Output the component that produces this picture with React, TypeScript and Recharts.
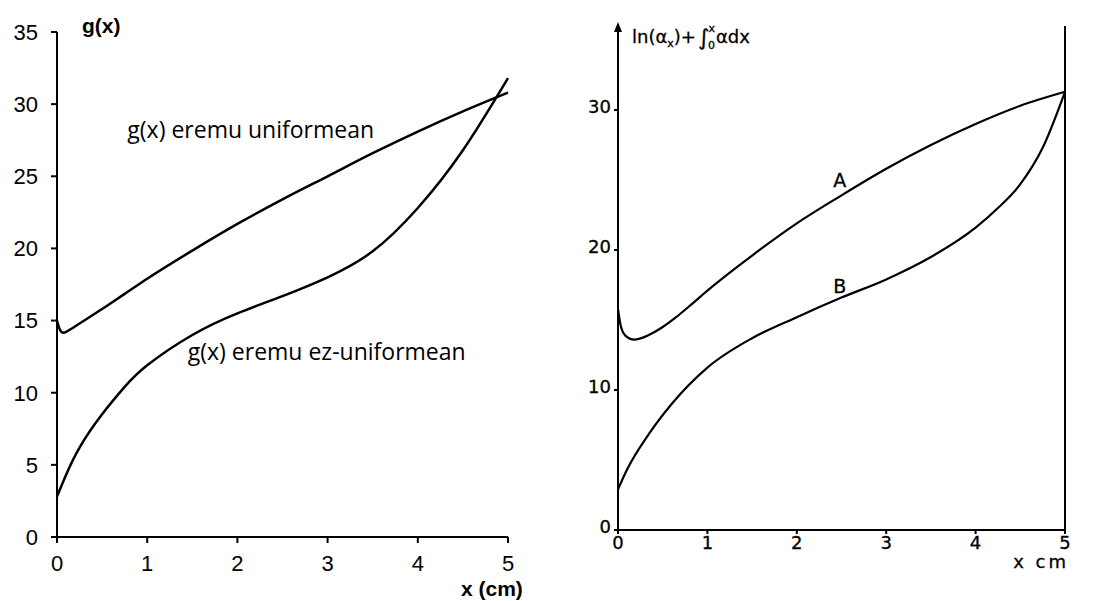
import { LineChart, Line, XAxis, YAxis, ReferenceLine, ReferenceDot } from 'recharts';

// shared x ticks (cm)
const xTicks = [0, 1, 2, 3, 4, 5];
const leftYTicks = [0, 5, 10, 15, 20, 25, 30, 35];
const rightYTicks = [0, 10, 20, 30];

// left panel: g(x)
const uniformX = [0, 0.03, 0.07, 0.15, 0.25, 0.5, 0.75, 1, 1.5, 2, 2.5, 3, 3.5, 4, 4.5, 5];
const uniformY = [15.0, 14.4, 14.15, 14.4, 14.8, 15.8, 16.85, 17.9, 19.85, 21.7, 23.4, 25.0, 26.6, 28.1, 29.5, 30.8];
const nonUniformX = [0, 0.1, 0.25, 0.5, 0.75, 1, 1.5, 2, 2.5, 3, 3.5, 4, 4.5, 5];
const nonUniformY = [2.8, 4.3, 6.2, 8.5, 10.4, 11.9, 14.0, 15.5, 16.7, 18.0, 19.8, 22.8, 26.8, 31.8];

// right panel: curves A and B
const curveAX = [0, 0.03, 0.08, 0.18, 0.35, 0.5, 0.65, 0.8, 1, 1.5, 2, 2.5, 3, 3.5, 4, 4.5, 5];
const curveAY = [15.8, 14.6, 13.9, 13.6, 13.95, 14.5, 15.2, 16.0, 17.1, 19.6, 21.9, 23.9, 25.8, 27.5, 29.0, 30.3, 31.3];
const curveBX = [0, 0.1, 0.35, 0.6, 1, 1.5, 2, 2.5, 3, 3.5, 4, 4.25, 4.5, 4.75, 5];
const curveBY = [2.9, 4.3, 6.9, 9.0, 11.6, 13.7, 15.2, 16.6, 17.9, 19.5, 21.6, 23.0, 24.7, 27.3, 31.3];

const toPoints = (xs: number[], ys: number[]) => xs.map((x, i) => ({ x, y: ys[i] }));

const arial = '"Liberation Sans", Arial, sans-serif';
const calibri = '"Open Sans", Lato, sans-serif';
const oldFont = '"DejaVu Sans", sans-serif';

function LeftChart() {
  return (
    <LineChart width={550} height={601} margin={{ top: 32, right: 42, bottom: 24, left: 0 }}>
      <XAxis
        type="number"
        dataKey="x"
        domain={[0, 5]}
        ticks={xTicks}
        height={40}
        stroke="#000"
        strokeWidth={2}
        tickSize={6}
        tickMargin={12}
        tick={{ fill: '#000', fontSize: 22, fontFamily: arial }}
        label={(props: any) => {
          const { x, y, width } = props.viewBox;
          return (
            <text x={x + width - 47} y={y + 59} textAnchor="start" fontFamily={arial} fontWeight="bold" fontSize={21} fill="#000">
              x (cm)
            </text>
          );
        }}
      />
      <YAxis
        type="number"
        domain={[0, 35]}
        ticks={leftYTicks}
        width={57}
        stroke="#000"
        strokeWidth={2}
        tickSize={6}
        tickMargin={13}
        tick={{ fill: '#000', fontSize: 22, fontFamily: arial }}
        label={(props: any) => {
          const { x, y, width } = props.viewBox;
          return (
            <text x={x + width + 25} y={y + 1} textAnchor="start" fontFamily={arial} fontWeight="bold" fontSize={21} fill="#000">
              g(x)
            </text>
          );
        }}
      />
      <ReferenceDot
        x={0.78}
        y={28.2}
        r={0}
        fill="none"
        stroke="none"
        label={{ value: 'g(x) eremu uniformean', position: 'right', offset: 0, fill: '#000', fontSize: 23, fontFamily: calibri }}
      />
      <ReferenceDot
        x={1.45}
        y={12.8}
        r={0}
        fill="none"
        stroke="none"
        label={{ value: 'g(x) eremu ez-uniformean', position: 'right', offset: 0, fill: '#000', fontSize: 23, fontFamily: calibri }}
      />
      <Line data={toPoints(uniformX, uniformY)} dataKey="y" type="monotone" stroke="#000" strokeWidth={2.5} dot={false} isAnimationActive={false} />
      <Line data={toPoints(nonUniformX, nonUniformY)} dataKey="y" type="natural" stroke="#000" strokeWidth={2.5} dot={false} isAnimationActive={false} />
    </LineChart>
  );
}

function RightChart() {
  return (
    <LineChart width={548} height={601} margin={{ top: 26, right: 33, bottom: 31, left: 0 }}>
      <XAxis
        type="number"
        dataKey="x"
        domain={[0, 5]}
        ticks={xTicks}
        height={40}
        stroke="#000"
        strokeWidth={2}
        tickSize={4}
        tickMargin={2}
        tick={{ fill: '#000', stroke: '#000', strokeWidth: 0.3, fontSize: 18, fontFamily: oldFont }}
        label={(props: any) => {
          const { x, y, width } = props.viewBox;
          return (
            <text x={x + width + 4} y={y + 38} textAnchor="end" fontFamily={oldFont} fontSize={18} letterSpacing={3} fill="#000" stroke="#000" strokeWidth={0.3}>
              x  cm
            </text>
          );
        }}
      />
      <YAxis
        type="number"
        domain={[0, 36]}
        ticks={rightYTicks}
        width={68}
        stroke="#000"
        strokeWidth={2}
        tickSize={4}
        tickMargin={3}
        tick={{ fill: '#000', stroke: '#000', strokeWidth: 0.3, fontSize: 18, fontFamily: oldFont, dy: -3 }}
        label={(props: any) => {
          const { x, y, width } = props.viewBox;
          const ax = x + width;
          return (
            <g>
              <path d={`M${ax - 4},${y + 6} L${ax},${y - 4} L${ax + 4},${y + 6} Z`} fill="#000" />
              <text x={ax + 14} y={y + 17} fontFamily={oldFont} fontSize={18} fill="#000" stroke="#000" strokeWidth={0.3}>
                <tspan>ln(α</tspan>
                <tspan fontSize={11} dy={4}>x</tspan>
                <tspan dy={-4}>)+</tspan>
                <tspan fontSize={22} dx={2} dy={2}>∫</tspan>
                <tspan fontSize={11} dx={-1} dy={-13}>x</tspan>
                <tspan fontSize={11} dx={-7} dy={17}>0</tspan>
                <tspan dx={1} dy={-6}>αdx</tspan>
              </text>
            </g>
          );
        }}
      />
      <ReferenceLine x={5} stroke="#000" strokeWidth={2} segment={[{ x: 5, y: 0 }, { x: 5, y: 36 }]} />
      <ReferenceDot x={2.48} y={25.0} r={0} fill="none" stroke="none" label={{ value: 'A', position: 'center', fill: '#000', stroke: '#000', strokeWidth: 0.3, fontSize: 19, fontFamily: oldFont }} />
      <ReferenceDot x={2.48} y={17.4} r={0} fill="none" stroke="none" label={{ value: 'B', position: 'center', fill: '#000', stroke: '#000', strokeWidth: 0.3, fontSize: 19, fontFamily: oldFont }} />
      <Line data={toPoints(curveAX, curveAY)} dataKey="y" type="monotone" stroke="#000" strokeWidth={2.2} dot={false} isAnimationActive={false} />
      <Line data={toPoints(curveBX, curveBY)} dataKey="y" type="monotone" stroke="#000" strokeWidth={2.2} dot={false} isAnimationActive={false} />
    </LineChart>
  );
}

export default function App() {
  return (
    <div style={{ position: 'absolute', left: 0, top: 0, width: 1098, height: 601, background: '#fff', overflow: 'hidden' }}>
      <div style={{ position: 'absolute', left: 0, top: 0 }}>
        <LeftChart />
      </div>
      <div style={{ position: 'absolute', left: 550, top: 0 }}>
        <RightChart />
      </div>
    </div>
  );
}
